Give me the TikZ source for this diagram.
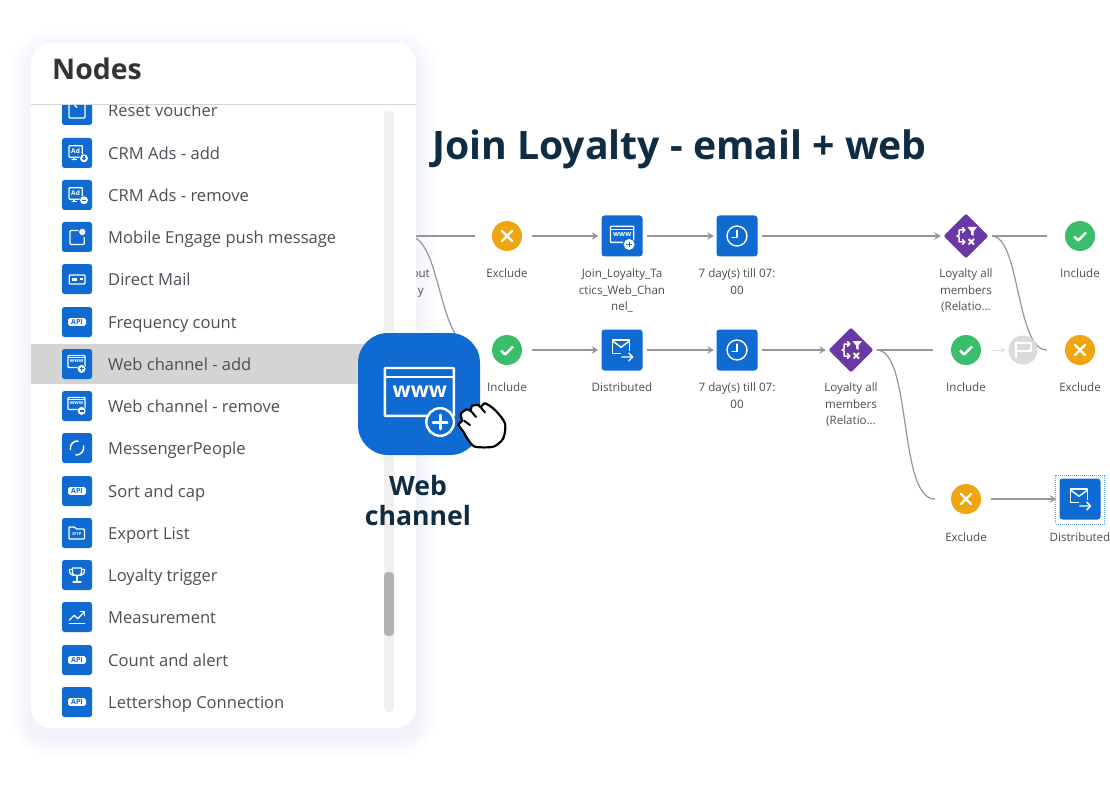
\documentclass[tikz,border=0pt]{standalone}
\usepackage{fontspec}
\setmainfont{Open Sans}
\usetikzlibrary{arrows.meta,shapes.geometric}
\definecolor{sapblue}{HTML}{0F6AD2}
\definecolor{navy}{HTML}{0F2C42}
\definecolor{txt}{HTML}{4A4F55}
\definecolor{orangex}{HTML}{EEA511}
\definecolor{greenx}{HTML}{3BBE6C}
\definecolor{purp}{HTML}{6C38A6}
\definecolor{conn}{HTML}{969696}
\definecolor{shade}{HTML}{5A6CC8}
\newcount\gcnt
\tikzset{
  x=1pt,y=-1pt,
  gl/.style={draw=white,line width=\lw pt,line join=round,line cap=round},
  lsq/.style={fill=sapblue,minimum size=30pt,inner sep=0pt,rounded corners=2.5pt},
  fsq/.style={fill=sapblue,minimum size=41pt,inner sep=0pt,rounded corners=3pt},
  fcirc/.style={circle,minimum size=30pt,inner sep=0pt},
  fdia/.style={diamond,fill=purp,minimum width=45pt,minimum height=45pt,inner sep=0pt,rounded corners=2pt},
  ltext/.style={anchor=base west,inner sep=0pt,text=txt,font=\fontsize{16.55}{20}\selectfont},
  flabel/.style={anchor=north,yshift=7.25pt,inner sep=0pt,align=center,text=txt,font=\fontsize{11.6}{16.5}\selectfont},
  link/.style={draw=conn,line width=1.2pt},
  tipc/.style={link,-{Stealth[length=6.5pt,width=7.5pt]},shorten <=10pt,shorten >=3pt},
  tips/.style={link,-{Stealth[length=6.5pt,width=7.5pt]},shorten <=4pt,shorten >=2.5pt},
  bare/.style={link,shorten <=3pt,shorten >=18pt},
}
\newcommand{\place}[5]{\begin{scope}[shift={(#1,#2)},scale=#3]\pgfmathsetmacro\lw{#4}#5\end{scope}}
\newcommand{\gtext}[5]{\global\advance\gcnt by 1 \node[transform shape,inner sep=0pt,text=#5,font=\bfseries\fontsize{#3}{#3}\selectfont] (g\the\gcnt) at (#1,#2) {#4};}
\newcommand{\gwin}{%
  \draw[gl,rounded corners=.7pt] (-8.4,-6.4) rectangle (8.6,5.4);
  \draw[gl] (-8.4,-4.2) -- (8.6,-4.2);
  \gtext{.2}{-.6}{5.2}{www}{white}}
\newcommand{\gplusf}{\fill[sapblue] (5.2,6.9) circle (4.7);\fill[white] (5.2,6.9) circle (4);
  \draw[sapblue,line width=1.1pt] (3.2,6.9)--(7.2,6.9) (5.2,4.9)--(5.2,8.9);}
\newcommand{\gminusf}{\fill[sapblue] (5.2,6.9) circle (4.7);\fill[white] (5.2,6.9) circle (4);
  \draw[sapblue,line width=1.3pt] (3.2,6.9)--(7.2,6.9);}
\newcommand{\gplusb}{\fill[sapblue] (5.2,6.9) circle (3.4);\draw[gl] (5.2,6.9) circle (3.4);
  \draw[gl,line width=3pt] (3.5,6.9)--(6.9,6.9) (5.2,5.2)--(5.2,8.6);}
\newcommand{\gad}{%
  \draw[gl,rounded corners=.7pt] (-8,-7.3) rectangle (5.3,4.3);
  \draw[gl] (-5,6.8)--(-.5,6.8) (-3,4.3)--(-3,6.8);
  \gtext{-1.4}{-1.8}{6.6}{Ad}{white}}
\newcommand{\gpush}{%
  \draw[gl,rounded corners=1pt] (1,-6.5) -- (-7,-6.5) -- (-7,7.5) -- (7.3,7.5) -- (7.3,0.5);
  \fill[white] (5.3,-5) circle (3.2);}
\newcommand{\gmailc}{%
  \draw[gl,rounded corners=.8pt] (-7.7,-4) rectangle (8,5);
  \fill[white] (-5.5,-1.2) rectangle (-.5,2.2);
  \fill[white] (2.5,-1.2) rectangle (5.5,1);}
\newcommand{\gapi}{%
  \fill[white,rounded corners=1.6pt] (-9,-3.8) rectangle (9,3.8);
  \gtext{0}{0}{7}{API}{sapblue}}
\newcommand{\gmess}{%
  \draw[gl,line width=1.5pt,line cap=butt] (-6.6,2) .. controls (-7.6,-4) and (-3,-7.6) .. (1.5,-7)
    (6.6,-2.5) .. controls (7.8,3.5) and (3,7.6) .. (-1.5,7);}
\newcommand{\gfolder}{%
  \draw[gl,rounded corners=.7pt] (-8,-6) -- (-2.5,-6) -- (-.5,-4) -- (7.5,-4) -- (7.5,6) -- (-8,6) -- cycle;
  \gtext{-.2}{1.2}{3.9}{SFTP}{white}}
\newcommand{\gtrophy}{%
  \draw[gl] (-4.5,-7) -- (4.5,-7) -- (4.5,-2) .. controls (4.5,1.5) and (-4.5,1.5) .. (-4.5,-2) -- cycle;
  \draw[gl] (-4.5,-5.5) -- (-7.5,-5.5) .. controls (-7.8,-1.5) and (-6,0) .. (-3.5,.5);
  \draw[gl] (4.5,-5.5) -- (7.5,-5.5) .. controls (7.8,-1.5) and (6,0) .. (3.5,.5);
  \draw[gl] (0,1) -- (0,6.5) (-4,7) -- (4,7);}
\newcommand{\gchart}{%
  \draw[gl] (-7.7,3.3) -- (-2.7,-1.7) -- (.7,1.7) -- (7.3,-5);
  \draw[gl] (3.2,-5.2) -- (7.5,-5.2) -- (7.5,-1.2);
  \draw[gl] (-7.7,6.7) -- (7.7,6.7);}
\newcommand{\greset}{%
  \draw[gl,rounded corners=1pt] (-8,-8) rectangle (8,8);
  \draw[gl] (-2.5,-5) -- (0,-2.5);}
\newcommand{\gclock}{%
  \draw[gl] (0,0) circle (7.3);
  \draw[gl] (0,-4.3) -- (0,1) -- (-3.6,1);}
\newcommand{\gsend}{%
  \draw[gl,line cap=butt] (-.8,2.4) -- (-6.8,2.4) -- (-6.8,-7.3) -- (5.4,-7.3) -- (5.4,1);
  \draw[gl,line cap=butt] (-6.8,-6.5) -- (-.7,-2) -- (5.4,-6.5);
  \draw[gl] (-.2,5.1) -- (7.8,5.1) (5,2.3) -- (7.8,5.1) -- (5,7.9);}
\newcommand{\gfilter}{%
  \draw[gl] (-1.5,-6) -- (-7,-6) -- (-7,-1) -- (-9,0) -- (-7,1) -- (-7,6) -- (-1.5,6);
  \draw[gl] (-3.5,-8.3) -- (-1.2,-6) -- (-3.5,-3.7) (-3.5,3.7) -- (-1.2,6) -- (-3.5,8.3);
  \fill[white] (1.5,-9) -- (11,-9) -- (7.5,-4.5) -- (7.5,0) -- (5,-1.5) -- (5,-4.5) -- cycle;
  \draw[gl,line width=2pt,line cap=butt] (2.5,3) -- (8,8.5) (8,3) -- (2.5,8.5);}
\newcommand{\gx}{\draw[gl,line width=2.4pt] (-5,-5) -- (5,5) (5,-5) -- (-5,5);}
\newcommand{\gcheck}{\draw[gl,line width=2.4pt,line cap=butt] (-6,.5) -- (-1.8,4.5) -- (6,-3.5);}
\newcommand{\listrow}[4]{%
  \node[lsq] (#2) at (77,#1) {};
  \place{77}{#1}{1}{1.25}{#4}
  \node[ltext] (#2t) at (108,#1+6.5) {#3};}
\newcommand{\flow}[6]{% name x y label-y label style
  \node[#6] (#1) at (#2,#3) {};
  \node[flabel] (#1l) at (#2,#4) {\strut #5};}
\begin{document}
\begin{tikzpicture}
\fill[white] (0,0) rectangle (1110,786);
\useasboundingbox (0,0) rectangle (1110,786);
% panel shadow
\foreach \i in {0,...,22}{
  \pgfmathsetmacro\mx{22-\i}
  \pgfmathsetmacro\pc{0.38*\i}
  \fill[shade!\pc!white,rounded corners=20pt+\mx pt] ({31-\mx},{50-\mx}) rectangle ({416+\mx},{736+\mx});
}
% title
\node[anchor=base west,inner sep=0pt,text=navy,font=\bfseries\fontsize{39.2}{44}\selectfont] (title) at (432,159.5) {Join Loyalty - email + web};
% flow nodes
\coordinate (src) at (408,236);
\flow{ex1}{507}{236}{273}{Exclude}{fcirc,fill=orangex}
\flow{sq1}{622}{236}{273}{Join\_Loyalty\_Ta\\ctics\_Web\_Chan\\nel\_}{fsq}
\flow{cl1}{737}{236}{273}{7 day(s) till 07:\\00}{fsq}
\flow{di1}{966}{236}{273}{Loyalty all\\members\\(Relatio\dots}{fdia}
\flow{in1}{1080}{236}{273}{Include}{fcirc,fill=greenx}
\flow{in2}{507}{350}{387}{Include}{fcirc,fill=greenx}
\flow{sq2}{622}{350}{387}{Distributed}{fsq}
\flow{cl2}{737}{350}{387}{7 day(s) till 07:\\00}{fsq}
\flow{di2}{851}{350}{387}{Loyalty all\\members\\(Relatio\dots}{fdia}
\flow{in3}{966}{350}{387}{Include}{fcirc,fill=greenx}
\flow{ex2}{1080}{350}{387}{Exclude}{fcirc,fill=orangex}
\flow{ex3}{966}{499}{536.5}{Exclude}{fcirc,fill=orangex}
\flow{sq3}{1080}{499}{536.5}{Distributed}{fsq}
\node[flabel,anchor=north east] (cutl) at (430,273) {\strut out\\y};
\node[draw=sapblue!65,densely dotted,line width=1pt,minimum size=49pt,inner sep=0pt] (sel) at (1080,499.5) {};
% connectors
\draw[bare,shorten <=0pt,shorten >=17pt] (src) -- (ex1);
\draw[link,shorten >=14pt] (src) .. controls (443,236) and (436,350) .. (in2.west);
\draw[tipc] (ex1) -- (sq1);
\draw[tips] (sq1) -- (cl1);
\draw[tips] (cl1) -- (di1);
\draw[bare] (di1) -- (in1);
\draw[link,shorten <=3pt,shorten >=18pt] (di1.east) .. controls (1020,236) and (1016,350) .. (ex2.west);
\draw[tipc] (in2) -- (sq2);
\draw[tips] (sq2) -- (cl2);
\draw[tips] (cl2) -- (di2);
\draw[bare] (di2) -- (in3);
\draw[link,shorten <=3pt,shorten >=16pt] (di2.east) .. controls (912,350) and (898,499) .. (ex3.west);
\draw[tipc] (ex3) -- (sq3);
\node[fcirc,minimum size=29pt,fill=black!14] (flag) at (1023,350) {};
\draw[draw=black!12,line width=1pt,-{Stealth[length=5pt,width=6pt]},shorten <=10pt,shorten >=3pt] (in3) -- (flag);
\draw[white,line width=1.1pt,line join=round] (1016,358) -- (1016,343) -- (1031,343) -- (1031,351) -- (1016,351);
% glyphs
\place{507}{236}{1}{1}{\gx}
\place{1080}{350}{1}{1}{\gx}
\place{966}{499}{1}{1}{\gx}
\place{507}{350}{1}{1}{\gcheck}
\place{966}{350}{1}{1}{\gcheck}
\place{1080}{236}{1}{1}{\gcheck}
\place{622}{235}{1.37}{1.3}{\gwin\gplusf}
\place{737}{236}{1.37}{1.4}{\gclock}
\place{737}{350}{1.37}{1.4}{\gclock}
\place{622}{350}{1.37}{1.4}{\gsend}
\place{1080}{499}{1.37}{1.4}{\gsend}
\place{966}{236}{1}{1.5}{\gfilter}
\place{851}{350}{1}{1.5}{\gfilter}
% panel
\fill[white,rounded corners=20pt] (31,43) rectangle (416,728);
\begin{scope}
\clip (31,105) rectangle (416,728);
\fill[black!17] (31,344) rectangle (400,384);
\fill[black!6,rounded corners=4pt] (384,111) rectangle (394,712);
\fill[black!30,rounded corners=4pt] (384,572) rectangle (394,636);
\listrow{110}{r1}{Reset voucher}{\greset}
\listrow{153}{r2}{CRM Ads - add}{\gad\begin{scope}[shift={(1.8,-1.6)}]\gplusf\end{scope}}
\listrow{195}{r3}{CRM Ads - remove}{\gad\begin{scope}[shift={(1.8,-1.6)}]\gminusf\end{scope}}
\listrow{237}{r4}{Mobile Engage push message}{\gpush}
\listrow{279}{r5}{Direct Mail}{\gmailc}
\listrow{322}{r6}{Frequency count}{\gapi}
\listrow{364}{r7}{Web channel - add}{\begin{scope}[shift={(-.6,-2)}]\gwin\gplusf\end{scope}}
\listrow{406}{r8}{Web channel - remove}{\begin{scope}[shift={(-.6,-2)}]\gwin\gminusf\end{scope}}
\listrow{448}{r9}{MessengerPeople}{\gmess}
\listrow{491}{r10}{Sort and cap}{\gapi}
\listrow{533}{r11}{Export List}{\gfolder}
\listrow{575}{r12}{Loyalty trigger}{\gtrophy}
\listrow{617}{r13}{Measurement}{\gchart}
\listrow{660}{r14}{Count and alert}{\gapi}
\listrow{702}{r15}{Lettershop Connection}{\gapi}
\end{scope}
\draw[black!16,line width=1pt] (31,104.5) -- (416,104.5);
\node[anchor=base west,inner sep=0pt,text=black!80,font=\bfseries\fontsize{28.4}{32}\selectfont] (nodes) at (52,79.5) {Nodes};
% big icon
\node[fill=sapblue,minimum size=122pt,inner sep=0pt,rounded corners=30pt] (big) at (419,394) {};
\place{419}{394}{4.06}{2.4}{\gwin\gplusb}
\node[anchor=north,yshift=11pt,inner sep=0pt,align=center,text=navy,font=\bfseries\fontsize{26.6}{30}\selectfont] (bigl) at (418,485) {\strut Web\\channel};
% hand
\draw[fill=white,draw=black,line width=2.2pt,line join=round] plot[smooth cycle,tension=.45] coordinates {(458.3,424.5) (462,421) (460.7,414) (466.7,409.3) (470.7,410.7) (471.7,406) (478.3,405) (480.7,407.3) (485,403.3) (495,410) (505,423.3) (503.3,438.3) (493.3,446.7) (475,446.7) (468.3,440) (463.3,431.7)};
\draw[black,line width=2pt,line cap=round] (464,420.7) -- (470,425) (470.7,410.7) -- (476,417) (480.7,407.3) -- (485,412.5);
\end{tikzpicture}
\end{document}
